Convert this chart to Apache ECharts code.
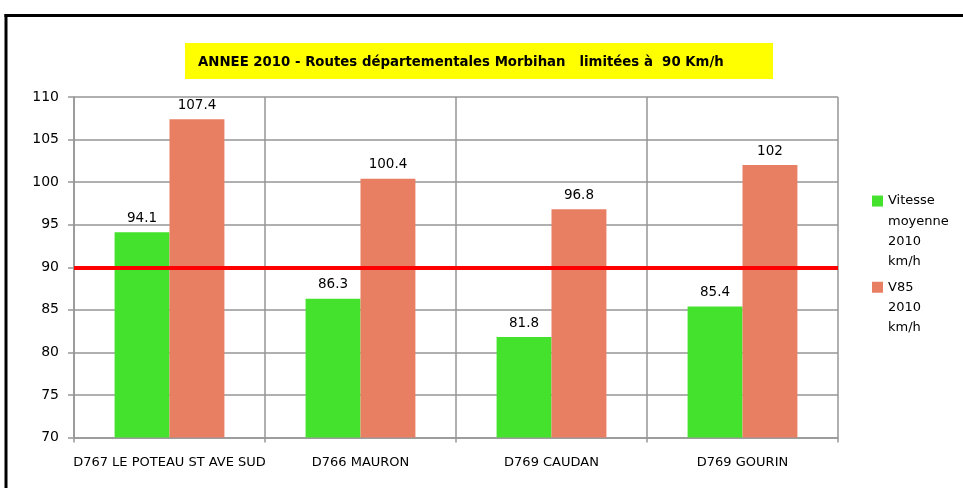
<!DOCTYPE html>
<html>
<head>
<meta charset="utf-8">
<script src="https://cdn.jsdelivr.net/npm/echarts@6/dist/echarts.min.js"></script>
<style>html,body{margin:0;padding:0;background:#fff}#c{width:963px;height:488px}</style>
</head>
<body>
<div id="c"></div>
<script>
var categories = ['D767 LE POTEAU ST AVE SUD', 'D766 MAURON', 'D769 CAUDAN', 'D769 GOURIN'];
var vitesseMoyenne = [94.1, 86.3, 81.8, 85.4];
var v85 = [107.4, 100.4, 96.8, 102];
var speedLimit = 90;
var yTicks = {min: 70, max: 110, interval: 5};
var titleText = 'ANNEE 2010 - Routes départementales Morbihan   limitées à  90 Km/h';
var name1 = 'Vitesse moyenne 2010 km/h';
var name2 = 'V85 2010 km/h';

var FONT = 'DejaVu Sans';
var chart = echarts.init(document.getElementById('c'), null, {renderer: 'canvas'});
var gridColor = '#969696';
chart.setOption({
  animation: false,
  backgroundColor: '#fff',
  textStyle: {fontFamily: FONT},
  graphic: [
    {type: 'line', z: 0, shape: {x1: 4.5, y1: 15.5, x2: 970, y2: 15.5}, style: {stroke: '#000', lineWidth: 3}},
    {type: 'line', z: 0, shape: {x1: 6, y1: 14, x2: 6, y2: 500}, style: {stroke: '#000', lineWidth: 3}},
    {type: 'rect', z: 1, shape: {x: 185, y: 43, width: 588, height: 36}, style: {fill: '#ffff00'}}
  ],
  title: {
    text: titleText,
    left: 193, top: 51,
    textStyle: {fontFamily: FONT, fontSize: 13.3, fontWeight: 'bold', color: '#000'},
    z: 5
  },
  grid: {left: 74, right: 125, top: 97, bottom: 50.5, containLabel: false},
  legend: [
    {
      data: [name1], orient: 'vertical', left: 867, top: 125,
      icon: 'rect', itemWidth: 11, itemHeight: 11,
      textStyle: {fontFamily: FONT, fontSize: 13, color: '#000', lineHeight: 20.3},
      formatter: function () { return '\n\n\nVitesse\nmoyenne\n2010\nkm/h'; }
    },
    {
      data: [name2], orient: 'vertical', left: 867, top: 231.5,
      icon: 'rect', itemWidth: 11, itemHeight: 11,
      textStyle: {fontFamily: FONT, fontSize: 13, color: '#000', lineHeight: 20.3},
      formatter: function () { return '\n\nV85\n2010\nkm/h'; }
    }
  ],
  xAxis: {
    type: 'category',
    data: categories,
    axisLine: {lineStyle: {color: gridColor, width: 1.5}},
    axisTick: {show: true, length: 5, lineStyle: {color: gridColor, width: 1.5}},
    axisLabel: {fontFamily: FONT, fontSize: 13, color: '#000', margin: 19, interval: 0},
    splitLine: {show: true, interval: 0, lineStyle: {color: gridColor, width: 1.5}}
  },
  yAxis: {
    type: 'value',
    min: yTicks.min, max: yTicks.max, interval: yTicks.interval,
    axisLine: {show: true, lineStyle: {color: gridColor, width: 1.5}},
    axisTick: {show: true, length: 6, lineStyle: {color: gridColor, width: 1.5}},
    axisLabel: {fontFamily: FONT, fontSize: 14, color: '#000', margin: 15},
    splitLine: {show: true, lineStyle: {color: gridColor, width: 1.5}}
  },
  series: [
    {
      name: name1, type: 'bar', data: vitesseMoyenne,
      itemStyle: {color: '#44e22c'},
      barGap: '0%', barCategoryGap: '42.5%',
      label: {show: true, position: 'top', distance: 7, fontFamily: FONT, fontSize: 13.5, color: '#000'}
    },
    {
      name: name2, type: 'bar', data: v85,
      itemStyle: {color: '#e87e62'},
      barGap: '0%', barCategoryGap: '42.5%',
      label: {show: true, position: 'top', distance: 7, fontFamily: FONT, fontSize: 13.5, color: '#000'},
      markLine: {
        silent: true, symbol: ['none', 'none'], z: 10,
        label: {show: false},
        lineStyle: {color: '#ff0000', width: 4, type: 'solid'},
        data: [{yAxis: speedLimit}]
      }
    }
  ]
});
</script>
</body>
</html>
